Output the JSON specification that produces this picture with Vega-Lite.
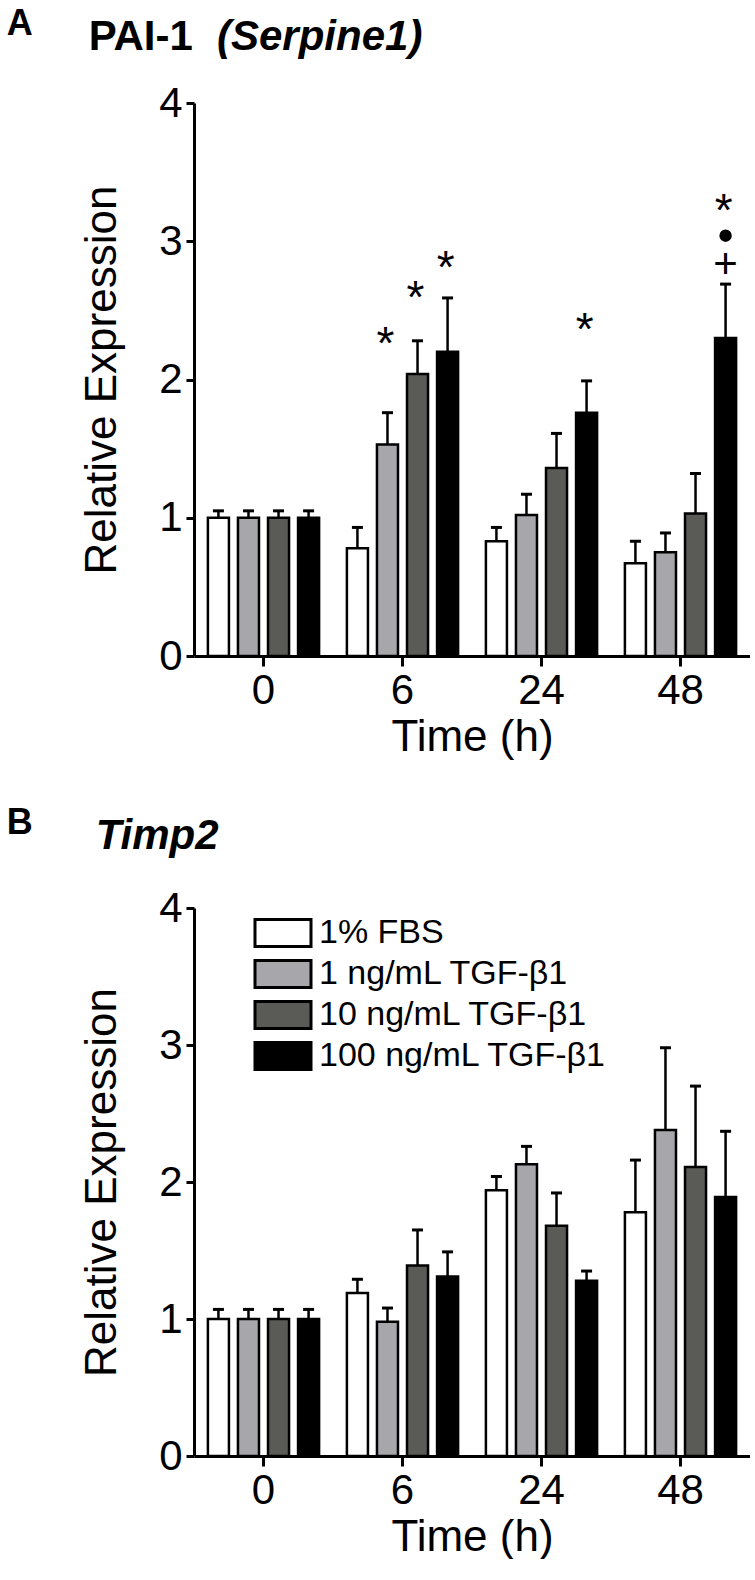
{
  "$schema": "https://vega.github.io/schema/vega-lite/v6.json",
  "padding": {"left": 6, "top": 6, "right": 0, "bottom": 0},
  "background": "white",
  "config": {
    "font": "Liberation Sans",
    "view": {"stroke": null},
    "axis": {
      "domainColor": "black", "domainWidth": 3, "tickColor": "black", "tickWidth": 3,
      "labelColor": "black", "titleColor": "black", "labelFont": "Liberation Sans", "titleFont": "Liberation Sans",
      "labelFontSize": 42, "titleFontSize": 44, "titleFontWeight": "normal", "grid": false, "zindex": 1
    },
    "title": {"color": "black", "font": "Liberation Sans"}
  },
  "datasets": {
    "a": [
      {"time": "0", "group": "1% FBS", "mean": 1.0, "upper": 1.05},
      {"time": "0", "group": "1 ng/mL TGF-β1", "mean": 1.0, "upper": 1.05},
      {"time": "0", "group": "10 ng/mL TGF-β1", "mean": 1.0, "upper": 1.05},
      {"time": "0", "group": "100 ng/mL TGF-β1", "mean": 1.0, "upper": 1.05},
      {"time": "6", "group": "1% FBS", "mean": 0.78, "upper": 0.93},
      {"time": "6", "group": "1 ng/mL TGF-β1", "mean": 1.53, "upper": 1.76},
      {"time": "6", "group": "10 ng/mL TGF-β1", "mean": 2.04, "upper": 2.28},
      {"time": "6", "group": "100 ng/mL TGF-β1", "mean": 2.2, "upper": 2.59},
      {"time": "24", "group": "1% FBS", "mean": 0.83, "upper": 0.93},
      {"time": "24", "group": "1 ng/mL TGF-β1", "mean": 1.02, "upper": 1.17},
      {"time": "24", "group": "10 ng/mL TGF-β1", "mean": 1.36, "upper": 1.61},
      {"time": "24", "group": "100 ng/mL TGF-β1", "mean": 1.76, "upper": 1.99},
      {"time": "48", "group": "1% FBS", "mean": 0.67, "upper": 0.83},
      {"time": "48", "group": "1 ng/mL TGF-β1", "mean": 0.75, "upper": 0.89},
      {"time": "48", "group": "10 ng/mL TGF-β1", "mean": 1.03, "upper": 1.32},
      {"time": "48", "group": "100 ng/mL TGF-β1", "mean": 2.3, "upper": 2.69}
    ],
    "annA": [
      {"time": "6", "group": "1 ng/mL TGF-β1", "pos": 2.3, "sym": "*"},
      {"time": "6", "group": "10 ng/mL TGF-β1", "pos": 2.63, "sym": "*"},
      {"time": "6", "group": "100 ng/mL TGF-β1", "pos": 2.85, "sym": "*"},
      {"time": "24", "group": "100 ng/mL TGF-β1", "pos": 2.4, "sym": "*"},
      {"time": "48", "group": "100 ng/mL TGF-β1", "pos": 3.26, "sym": "*"},
      {"time": "48", "group": "100 ng/mL TGF-β1", "pos": 3.04, "sym": "dot"},
      {"time": "48", "group": "100 ng/mL TGF-β1", "pos": 2.83, "sym": "+"}
    ],
    "b": [
      {"time": "0", "group": "1% FBS", "mean": 1.0, "upper": 1.07},
      {"time": "0", "group": "1 ng/mL TGF-β1", "mean": 1.0, "upper": 1.07},
      {"time": "0", "group": "10 ng/mL TGF-β1", "mean": 1.0, "upper": 1.07},
      {"time": "0", "group": "100 ng/mL TGF-β1", "mean": 1.0, "upper": 1.07},
      {"time": "6", "group": "1% FBS", "mean": 1.19, "upper": 1.29},
      {"time": "6", "group": "1 ng/mL TGF-β1", "mean": 0.98, "upper": 1.08},
      {"time": "6", "group": "10 ng/mL TGF-β1", "mean": 1.39, "upper": 1.65},
      {"time": "6", "group": "100 ng/mL TGF-β1", "mean": 1.31, "upper": 1.49},
      {"time": "24", "group": "1% FBS", "mean": 1.94, "upper": 2.04},
      {"time": "24", "group": "1 ng/mL TGF-β1", "mean": 2.13, "upper": 2.26},
      {"time": "24", "group": "10 ng/mL TGF-β1", "mean": 1.68, "upper": 1.92},
      {"time": "24", "group": "100 ng/mL TGF-β1", "mean": 1.28, "upper": 1.35},
      {"time": "48", "group": "1% FBS", "mean": 1.78, "upper": 2.16},
      {"time": "48", "group": "1 ng/mL TGF-β1", "mean": 2.38, "upper": 2.98},
      {"time": "48", "group": "10 ng/mL TGF-β1", "mean": 2.11, "upper": 2.7},
      {"time": "48", "group": "100 ng/mL TGF-β1", "mean": 1.89, "upper": 2.37}
    ]
  },
  "resolve": {"scale": {"color": "independent"}, "legend": {"color": "independent"}},
  "spacing": 46,
  "vconcat": [
    {
      "title": {"text": "A", "orient": "left", "angle": 0, "anchor": "end", "fontSize": 36, "fontWeight": "bold", "offset": 48, "align": "left", "baseline": "top", "dy": -9},
      "resolve": {"scale": {"color": "independent"}, "legend": {"color": "independent"}},
      "vconcat": [
        {
          "width": 556, "height": 553,
          "title": {"text": "PAI-1", "subtitle": "\u200b\u00a0\u00a0\u00a0\u00a0\u00a0\u00a0\u00a0\u00a0\u00a0\u00a0\u00a0(Serpine1)", "anchor": "start", "frame": "bounds", "dx": 8, "offset": 23,
            "fontSize": 42, "fontWeight": "bold", "subtitleFontSize": 42, "subtitleFontWeight": "bold", "subtitleFontStyle": "italic", "subtitleColor": "black", "subtitlePadding": -42, "subtitleFont": "Liberation Sans"},
          "data": {"name": "a"},
          "encoding": {
            "x": {"field": "time", "type": "nominal", "sort": ["0", "6", "24", "48"], "scale": {"paddingInner": 0.2, "paddingOuter": 0.1},
              "axis": {"title": "Time (h)", "labelAngle": 0, "tickSize": 10, "labelPadding": 4, "titlePadding": 4}},
            "xOffset": {"field": "group", "type": "nominal", "sort": ["1% FBS", "1 ng/mL TGF-β1", "10 ng/mL TGF-β1", "100 ng/mL TGF-β1"], "scale": {"paddingInner": 0.3, "paddingOuter": 0}}
          },
          "layer": [
            {
              "mark": {"type": "bar", "stroke": "black", "strokeWidth": 2.5},
              "encoding": {
                "y": {"field": "mean", "type": "quantitative", "scale": {"domain": [0, 4], "nice": false},
                  "axis": {"title": "Relative Expression", "values": [0, 1, 2, 3, 4], "format": "d", "tickSize": 8, "labelPadding": 4, "titlePadding": 34}},
                "color": {"field": "group", "type": "nominal", "sort": ["1% FBS", "1 ng/mL TGF-β1", "10 ng/mL TGF-β1", "100 ng/mL TGF-β1"],
                  "scale": {"domain": ["1% FBS", "1 ng/mL TGF-β1", "10 ng/mL TGF-β1", "100 ng/mL TGF-β1"], "range": ["#ffffff", "#a6a6ab", "#5a5b56", "#000000"]}, "legend": null}
              }
            },
            {"mark": {"type": "rule", "strokeWidth": 2.5, "color": "black"}, "encoding": {"y": {"field": "mean", "type": "quantitative"}, "y2": {"field": "upper"}}},
            {"mark": {"type": "tick", "thickness": 3, "size": 11, "color": "black", "opacity": 1}, "encoding": {"y": {"field": "upper", "type": "quantitative"}}},
            {
              "data": {"name": "annA"},
              "transform": [{"filter": "datum.sym === '*'"}],
              "mark": {"type": "text", "fontSize": 46, "font": "Liberation Sans", "color": "black", "baseline": "middle", "dx": -2, "dy": 7},
              "encoding": {"y": {"field": "pos", "type": "quantitative"}, "text": {"field": "sym"}}
            },
            {
              "data": {"name": "annA"},
              "transform": [{"filter": "datum.sym === '+'"}],
              "mark": {"type": "text", "fontSize": 42, "font": "Liberation Sans", "color": "black", "baseline": "middle"},
              "encoding": {"y": {"field": "pos", "type": "quantitative"}, "text": {"field": "sym"}}
            },
            {
              "data": {"name": "annA"},
              "transform": [{"filter": "datum.sym === 'dot'"}],
              "mark": {"type": "point", "filled": true, "size": 154, "color": "black", "opacity": 1},
              "encoding": {"y": {"field": "pos", "type": "quantitative"}}
            }
          ]
        }
      ]
    },
    {
      "title": {"text": "B", "orient": "left", "angle": 0, "anchor": "end", "fontSize": 36, "fontWeight": "bold", "offset": 48, "align": "left", "baseline": "top", "dy": -9},
      "resolve": {"scale": {"color": "independent"}, "legend": {"color": "independent"}},
      "vconcat": [
        {
          "width": 556, "height": 548,
          "title": {"text": "Timp2", "anchor": "start", "frame": "bounds", "dx": 15, "offset": 29, "fontSize": 42, "fontWeight": "bold", "fontStyle": "italic"},
          "data": {"name": "b"},
          "encoding": {
            "x": {"field": "time", "type": "nominal", "sort": ["0", "6", "24", "48"], "scale": {"paddingInner": 0.2, "paddingOuter": 0.1},
              "axis": {"title": "Time (h)", "labelAngle": 0, "tickSize": 10, "labelPadding": 4, "titlePadding": 4}},
            "xOffset": {"field": "group", "type": "nominal", "sort": ["1% FBS", "1 ng/mL TGF-β1", "10 ng/mL TGF-β1", "100 ng/mL TGF-β1"], "scale": {"paddingInner": 0.3, "paddingOuter": 0}}
          },
          "layer": [
            {
              "mark": {"type": "bar", "stroke": "black", "strokeWidth": 2.5},
              "encoding": {
                "y": {"field": "mean", "type": "quantitative", "scale": {"domain": [0, 4], "nice": false},
                  "axis": {"title": "Relative Expression", "values": [0, 1, 2, 3, 4], "format": "d", "tickSize": 8, "labelPadding": 4, "titlePadding": 34}},
                "color": {"field": "group", "type": "nominal", "sort": ["1% FBS", "1 ng/mL TGF-β1", "10 ng/mL TGF-β1", "100 ng/mL TGF-β1"],
                  "scale": {"domain": ["1% FBS", "1 ng/mL TGF-β1", "10 ng/mL TGF-β1", "100 ng/mL TGF-β1"], "range": ["#ffffff", "#a6a6ab", "#5a5b56", "#000000"]},
                  "legend": {"orient": "none", "legendX": 72, "legendY": 8, "title": null, "symbolType": "M-2,-0.96H2V0.96H-2Z", "symbolSize": 784,
                    "symbolStrokeColor": "black", "symbolStrokeWidth": 3, "symbolOpacity": 1, "labelFontSize": 34, "labelOffset": 19, "rowPadding": 1,
                    "labelFont": "Liberation Sans", "labelColor": "black", "labelLimit": 500}}
              }
            },
            {"mark": {"type": "rule", "strokeWidth": 2.5, "color": "black"}, "encoding": {"y": {"field": "mean", "type": "quantitative"}, "y2": {"field": "upper"}}},
            {"mark": {"type": "tick", "thickness": 3, "size": 11, "color": "black", "opacity": 1}, "encoding": {"y": {"field": "upper", "type": "quantitative"}}}
          ]
        }
      ]
    }
  ]
}
